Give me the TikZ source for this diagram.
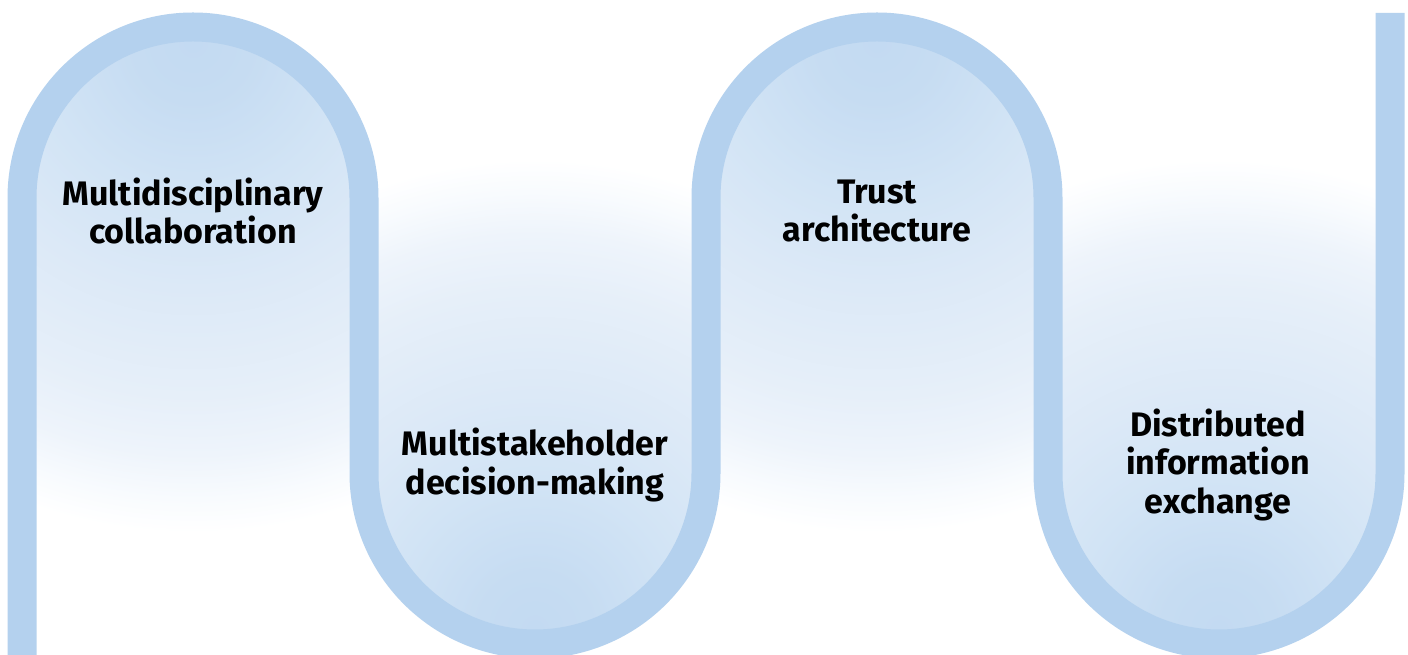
\documentclass[tikz,border=0pt]{standalone}
\usepackage{fontspec}
\setmainfont{Fira Sans}
\definecolor{bandblue}{RGB}{180,209,238}
\definecolor{ga}{RGB}{195,218,242}
\definecolor{gb}{RGB}{198,220,242}
\definecolor{gc}{RGB}{210,228,245}
\definecolor{gd}{RGB}{220,233,247}
\definecolor{ge}{RGB}{230,239,249}
\definecolor{gf}{RGB}{238,244,251}
\definecolor{gg}{RGB}{248,251,254}
\pgfdeclareradialshading{archshade}{\pgfpoint{0bp}{0bp}}{color(0bp)=(ga); color(3bp)=(gb); color(8bp)=(gc); color(12.5bp)=(gd); color(18bp)=(ge); color(21bp)=(gf); color(23.25bp)=(gg); color(25bp)=(white); color(50bp)=(white)}
\begin{document}
\begin{tikzpicture}[x=1pt,y=1pt,
  band/.style={draw=bandblue, line width=29pt},
  lbl/.style={font=\bfseries\fontsize{34}{38.5}\selectfont, align=center, text=black, inner sep=0pt}]
\fill[white] (0,0) rectangle (1408,655);
\useasboundingbox (0,0) rectangle (1408,655);
% gradient fills
\begin{scope}
\clip (22,-10) -- (22,457) arc[start angle=180,end angle=0,radius=171] -- (364,-10) -- cycle;
\shade[shading=archshade] (193,612) circle [radius=490];
\end{scope}
\begin{scope}
\clip (364,665) -- (364,182) arc[start angle=180,end angle=360,radius=171] -- (706,665) -- cycle;
\shade[shading=archshade] (535,26) circle [radius=470];
\end{scope}
\begin{scope}
\clip (706,-10) -- (706,457) arc[start angle=180,end angle=0,radius=171] -- (1048,-10) -- cycle;
\shade[shading=archshade] (877,612) circle [radius=490];
\end{scope}
\begin{scope}
\clip (1048,665) -- (1048,182) arc[start angle=180,end angle=360,radius=171] -- (1390,665) -- cycle;
\shade[shading=archshade] (1219,26) circle [radius=470];
\end{scope}
% band
\draw[band] (22,-10) -- (22,457) arc[start angle=180,end angle=0,radius=171]
  -- (364,182) arc[start angle=180,end angle=360,radius=171]
  -- (706,457) arc[start angle=180,end angle=0,radius=171]
  -- (1048,182) arc[start angle=180,end angle=360,radius=171]
  -- (1390,642);
% labels
\node[lbl] (t1) at (193,444) {Multidisciplinary\\collaboration};
\node[lbl] (t2) at (535,190) {Multistakeholder\\decision-making};
\node[lbl] (t3) at (877,444) {Trust\\architecture};
\node[lbl] (t4) at (1218,190.5) {Distributed\\information\\exchange};
\end{tikzpicture}
\end{document}
